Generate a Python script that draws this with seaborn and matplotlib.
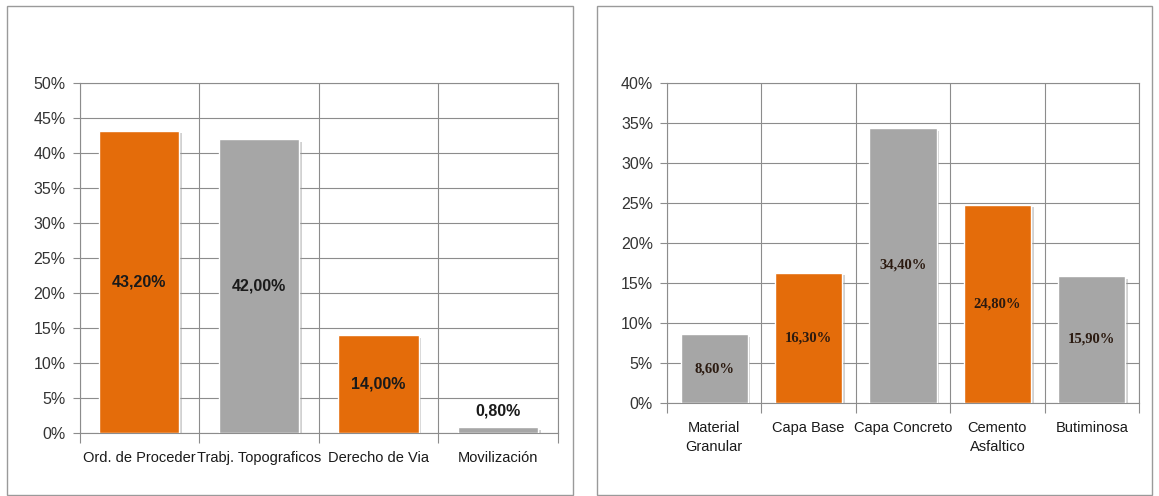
import matplotlib
matplotlib.use('Agg')
import matplotlib.pyplot as plt
import matplotlib.patheffects as pe
from matplotlib.patches import Rectangle
from matplotlib.ticker import FixedLocator, FuncFormatter
import pandas as pd
import seaborn as sns

# --- data ---
left_cats = ['Ord. de Proceder', 'Trabj. Topograficos', 'Derecho de Via', 'Movilización']
left_vals = [43.2, 42.0, 14.0, 0.8]
left_labels = ['43,20%', '42,00%', '14,00%', '0,80%']

right_cats = ['Material\nGranular', 'Capa Base', 'Capa Concreto', 'Cemento\nAsfaltico', 'Butiminosa']
right_vals = [8.6, 16.3, 34.4, 24.8, 15.9]
right_labels = ['8,60%', '16,30%', '34,40%', '24,80%', '15,90%']

orange = '#E46C0A'
grey = '#A6A6A6'
grid_col = '#8C8C8C'
left_colors = [orange, grey, orange, grey]
right_colors = [grey, orange, grey, orange, grey]

sns.set_style('white')
sans = ['Liberation Sans', 'DejaVu Sans']
plt.rcParams['font.family'] = sans

fig = plt.figure(figsize=(11.59, 4.96), dpi=100)

# panel frames
fig.add_artist(Rectangle((7 / 1159, 1 / 496), 566 / 1159, 489 / 496, transform=fig.transFigure,
                         fill=False, edgecolor='#9A9A9A', linewidth=1))
fig.add_artist(Rectangle((597 / 1159, 1 / 496), 555 / 1159, 489 / 496, transform=fig.transFigure,
                         fill=False, edgecolor='#9A9A9A', linewidth=1))

ax1 = fig.add_axes([79.5 / 1159, 1 - 433 / 496, (558 - 79.5) / 1159, 350 / 496])
ax2 = fig.add_axes([667 / 1159, 1 - 403 / 496, (1139 - 667) / 1159, 320 / 496])


def draw_panel(ax, cats, vals, labels, colors, ymax, width, val_font, val_size, val_color):
    df = pd.DataFrame({'cat': cats, 'val': vals})
    sns.barplot(data=df, x='cat', y='val', hue='cat', palette=colors, legend=False,
                width=width, saturation=1, ax=ax, zorder=3)
    for p in ax.patches:
        p.set_path_effects([pe.SimplePatchShadow(offset=(2, -2), shadow_rgbFace='#9A9A9A', alpha=0.45),
                            pe.Normal()])
    n = len(cats)
    ax.set_xlim(-0.5, n - 0.5)
    ax.set_ylim(0, ymax)
    ax.set_xlabel('')
    ax.set_ylabel('')
    # grid: horizontal at each 5%, vertical at category boundaries
    ax.yaxis.set_major_locator(FixedLocator(list(range(0, ymax + 1, 5))))
    ax.yaxis.set_major_formatter(FuncFormatter(lambda v, _: f'{int(v)}%'))
    ax.xaxis.set_major_locator(FixedLocator([i - 0.5 for i in range(n + 1)]))
    ax.xaxis.set_major_formatter(FuncFormatter(lambda v, _: ''))
    ax.xaxis.set_minor_locator(FixedLocator(list(range(n))))
    ax.set_xticklabels(cats, minor=True)
    ax.grid(True, which='major', axis='both', color=grid_col, linewidth=0.8, zorder=0)
    ax.set_axisbelow(True)
    ax.tick_params(axis='x', which='major', length=7, color=grid_col, width=0.8, direction='out', bottom=True)
    ax.tick_params(axis='x', which='minor', length=0, pad=13, labelsize=10.5, labelcolor='#1A1A1A')
    ax.tick_params(axis='y', which='major', length=5, color=grid_col, width=0.8, direction='out', left=True,
                   pad=5, labelsize=11.5, labelcolor='#333333')
    for lab in ax.get_xticklabels(minor=True):
        lab.set_verticalalignment('top')
        lab.set_linespacing(1.45)
    for s in ax.spines.values():
        s.set_color(grid_col)
        s.set_linewidth(0.8)
    for i, (v, t) in enumerate(zip(vals, labels)):
        if v < 3:
            ax.text(i, v + 1.3, t, ha='center', va='bottom', fontsize=val_size, fontweight='bold',
                    family=val_font, color=val_color, zorder=5)
        else:
            ax.text(i, v / 2, t, ha='center', va='center', fontsize=val_size, fontweight='bold',
                    family=val_font, color=val_color, zorder=5)


draw_panel(ax1, left_cats, left_vals, left_labels, left_colors, 50, 0.67, sans, 11.5, '#1A1A1A')
draw_panel(ax2, right_cats, right_vals, right_labels, right_colors, 40, 0.71,
           ['Liberation Serif', 'DejaVu Serif'], 10.5, '#2B1A10')

fig.savefig('out.png', dpi=100, facecolor='white')
